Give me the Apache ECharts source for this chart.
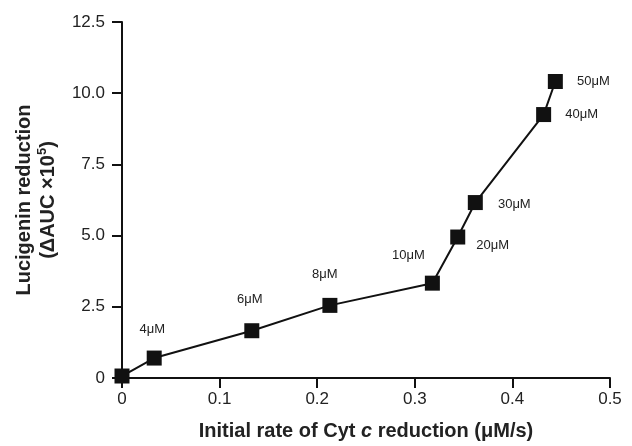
<!DOCTYPE html>
<html>
<head>
<meta charset="utf-8">
<script src="https://cdn.jsdelivr.net/npm/echarts@6/dist/echarts.min.js"></script>
<style>
  html, body { margin: 0; padding: 0; background: #fff; }
  #main { width: 632px; height: 446px; }
</style>
</head>
<body>
<div id="main"></div>
<script>
  // initial rate of Cyt c reduction (uM/s)
  var rates = [0, 0.033, 0.133, 0.213, 0.318, 0.344, 0.362, 0.432, 0.444];
  // lucigenin reduction (dAUC x 10^5)
  var lucigenin = [0.07, 0.70, 1.66, 2.55, 3.33, 4.95, 6.16, 9.25, 10.41];
  // concentration labels
  var concLabels = ['', '4\u03bcM', '6\u03bcM', '8\u03bcM', '10\u03bcM', '20\u03bcM', '30\u03bcM', '40\u03bcM', '50\u03bcM'];
  var xTicks = [0, 0.1, 0.2, 0.3, 0.4, 0.5];
  var yTicks = [0, 2.5, 5.0, 7.5, 10.0, 12.5];

  var font = 'Liberation Sans, Arial, Helvetica, sans-serif';
  // where each concentration label sits relative to its square
  var labelOffsets = [[0, 0], [-2, -29], [-2, -31], [-5, -31], [-24, -28],
    [35, 8], [39, 2], [38, 0], [38, 0]];

  var points = rates.map(function(r, i) {
    return {
      value: [r, lucigenin[i]],
      label: {
        show: concLabels[i] !== '',
        formatter: concLabels[i],
        position: 'inside',
        offset: labelOffsets[i]
      }
    };
  });

  var axisCommon = {
    axisLine: { show: true, lineStyle: { color: '#111', width: 2 } },
    axisTick: { show: true, length: 10, lineStyle: { color: '#111', width: 2 } },
    splitLine: { show: false },
    axisLabel: { color: '#222', fontFamily: font, fontSize: 17 }
  };

  var chart = echarts.init(document.getElementById('main'), null, { renderer: 'canvas' });
  chart.setOption({
    animation: false,
    backgroundColor: '#fff',
    grid: { left: 122, right: 22, top: 22, bottom: 64, containLabel: false },
    xAxis: echarts.util.merge({
      type: 'value',
      min: xTicks[0],
      max: xTicks[xTicks.length - 1],
      interval: 0.1,
      name: '{b|Initial rate of Cyt }{i|c}{b| reduction (\u03bcM/s)}',
      nameLocation: 'middle',
      nameGap: 43,
      nameTextStyle: {
        rich: {
          b: { fontFamily: font, fontSize: 20, fontWeight: 'bold', color: '#222' },
          i: { fontFamily: font, fontSize: 20, fontWeight: 'bold', fontStyle: 'italic', color: '#222' }
        }
      },
      axisLabel: {
        margin: 13,
        formatter: function(v) { return v === 0 ? '0' : String(Math.round(v * 10) / 10); }
      }
    }, axisCommon, false),
    yAxis: echarts.util.merge({
      type: 'value',
      min: yTicks[0],
      max: yTicks[yTicks.length - 1],
      interval: 2.5,
      name: '{b|Lucigenin reduction}\n{b|(\u0394AUC \u00d710}{s|5}{b|)}',
      nameLocation: 'middle',
      nameGap: 62,
      nameTextStyle: {
        align: 'center',
        rich: {
          b: { fontFamily: font, fontSize: 20, fontWeight: 'bold', color: '#222', lineHeight: 24 },
          s: { fontFamily: font, fontSize: 13, fontWeight: 'bold', color: '#222', verticalAlign: 'top', lineHeight: 24 }
        }
      },
      axisLabel: {
        margin: 17,
        formatter: function(v) { return v === 0 ? '0' : v.toFixed(1); }
      }
    }, axisCommon, false),
    series: [{
      type: 'line',
      data: points,
      symbol: 'rect',
      symbolSize: 15,
      clip: false,
      lineStyle: { color: '#111', width: 2 },
      itemStyle: { color: '#111' },
      label: { color: '#222', fontFamily: font, fontSize: 13 }
    }]
  });
</script>
</body>
</html>
